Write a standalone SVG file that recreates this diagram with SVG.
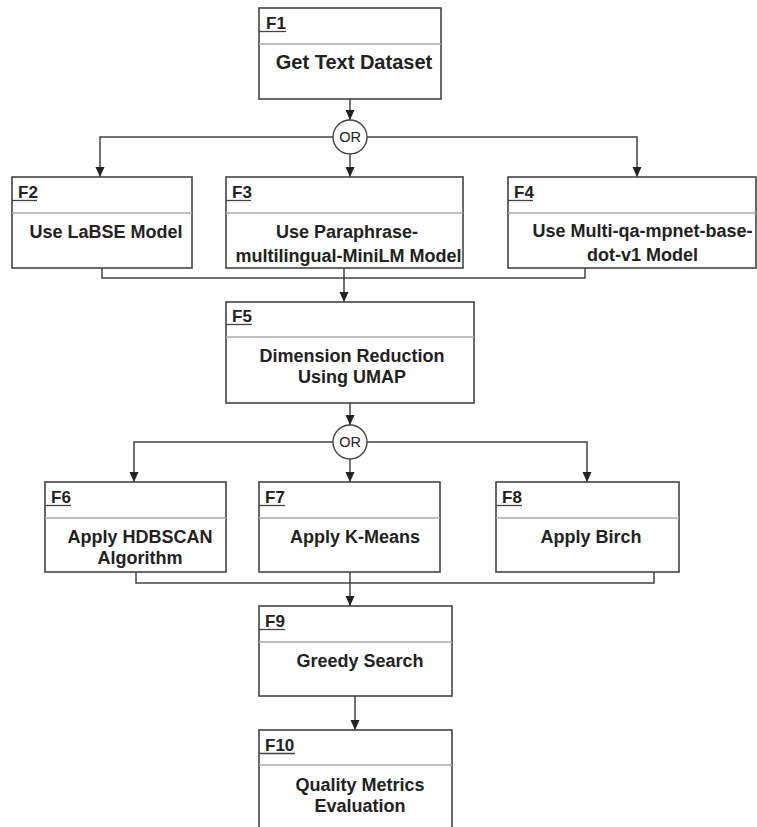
<svg xmlns="http://www.w3.org/2000/svg" width="757" height="827" viewBox="0 0 757 827">
<style>
.box{fill:#fff;stroke:#444;stroke-width:1.6}
.div{stroke:#aaa;stroke-width:1.4}
.lbl{font-family:"Liberation Sans",Arial,sans-serif;font-weight:bold;font-size:17px;fill:#222}
.ul{stroke:#444;stroke-width:1.3}
.t{font-family:"Liberation Sans",Arial,sans-serif;font-weight:bold;font-size:18px;fill:#222;text-anchor:middle}
.or{font-family:"Liberation Sans",Arial,sans-serif;font-size:14.5px;fill:#222;text-anchor:middle}
.c{fill:none;stroke:#444;stroke-width:1.5}
</style>
<defs>
<marker id="ah" markerWidth="11" markerHeight="10" refX="10" refY="4.5" orient="auto" markerUnits="userSpaceOnUse">
<path d="M0,0 L10,4.5 L0,9 z" fill="#222"/>
</marker>
</defs>
<g id="connectors">
<line class="c" x1="350" y1="99" x2="350" y2="120" marker-end="url(#ah)"/>
<circle cx="350" cy="137" r="17" fill="#fff" stroke="#444" stroke-width="1.4"/>
<text class="or" x="350" y="142">OR</text>
<path class="c" d="M333,137 H100 V177" marker-end="url(#ah)"/>
<path class="c" d="M367,137 H637 V177" marker-end="url(#ah)"/>
<line class="c" x1="350" y1="154" x2="350" y2="177" marker-end="url(#ah)"/>
<path class="c" d="M102,268 V278 H585 V268"/>
<line class="c" x1="344" y1="268" x2="344" y2="302" marker-end="url(#ah)"/>
<line class="c" x1="350" y1="403" x2="350" y2="425" marker-end="url(#ah)"/>
<circle cx="350" cy="442" r="17" fill="#fff" stroke="#444" stroke-width="1.4"/>
<text class="or" x="350" y="447">OR</text>
<path class="c" d="M333,442 H134 V482" marker-end="url(#ah)"/>
<path class="c" d="M367,442 H587 V482" marker-end="url(#ah)"/>
<line class="c" x1="350" y1="459" x2="350" y2="482" marker-end="url(#ah)"/>
<path class="c" d="M136,572 V583 H654 V572"/>
<line class="c" x1="350" y1="572" x2="350" y2="606" marker-end="url(#ah)"/>
<line class="c" x1="355" y1="696" x2="355" y2="730" marker-end="url(#ah)"/>
</g>
<g id="F1">
<rect class="box" x="259" y="8" width="182" height="91"/>
<line class="div" x1="259" y1="44" x2="441" y2="44"/>
<text class="lbl" x="266" y="29">F1</text>
<line class="ul" x1="259" y1="31.5" x2="286" y2="31.5"/>
<text class="t" x="354" y="69" style="font-size:20px">Get Text Dataset</text>
</g>
<g id="F2">
<rect class="box" x="12" y="177" width="180" height="91"/>
<line class="div" x1="12" y1="213" x2="192" y2="213"/>
<text class="lbl" x="18" y="198">F2</text>
<line class="ul" x1="12" y1="200.5" x2="37" y2="200.5"/>
<text class="t" x="106" y="238">Use LaBSE Model</text>
</g>
<g id="F3">
<rect class="box" x="226" y="177" width="237" height="91"/>
<line class="div" x1="226" y1="213" x2="463" y2="213"/>
<text class="lbl" x="232" y="198">F3</text>
<line class="ul" x1="226" y1="200.5" x2="251" y2="200.5"/>
<text class="t" x="347" y="238">Use Paraphrase-</text>
<text class="t" x="348.5" y="262">multilingual-MiniLM Model</text>
</g>
<g id="F4">
<rect class="box" x="508" y="177" width="248" height="91"/>
<line class="div" x1="508" y1="213" x2="756" y2="213"/>
<text class="lbl" x="514" y="198">F4</text>
<line class="ul" x1="508" y1="200.5" x2="533" y2="200.5"/>
<text class="t" x="642.5" y="237">Use Multi-qa-mpnet-base-</text>
<text class="t" x="642.5" y="261">dot-v1 Model</text>
</g>
<g id="F5">
<rect class="box" x="226" y="302" width="248" height="101"/>
<line class="div" x1="226" y1="337" x2="474" y2="337"/>
<text class="lbl" x="232" y="322">F5</text>
<line class="ul" x1="226" y1="324.5" x2="252" y2="324.5"/>
<text class="t" x="352" y="362">Dimension Reduction</text>
<text class="t" x="352" y="383">Using UMAP</text>
</g>
<g id="F6">
<rect class="box" x="45" y="482" width="181" height="90"/>
<line class="div" x1="45" y1="518" x2="226" y2="518"/>
<text class="lbl" x="51" y="503">F6</text>
<line class="ul" x1="45" y1="505.5" x2="71" y2="505.5"/>
<text class="t" x="140" y="543">Apply HDBSCAN</text>
<text class="t" x="140" y="564">Algorithm</text>
</g>
<g id="F7">
<rect class="box" x="259" y="482" width="181" height="90"/>
<line class="div" x1="259" y1="518" x2="440" y2="518"/>
<text class="lbl" x="265" y="503">F7</text>
<line class="ul" x1="259" y1="505.5" x2="285" y2="505.5"/>
<text class="t" x="355" y="543">Apply K-Means</text>
</g>
<g id="F8">
<rect class="box" x="496" y="482" width="183" height="90"/>
<line class="div" x1="496" y1="518" x2="679" y2="518"/>
<text class="lbl" x="502" y="503">F8</text>
<line class="ul" x1="496" y1="505.5" x2="522" y2="505.5"/>
<text class="t" x="591" y="543">Apply Birch</text>
</g>
<g id="F9">
<rect class="box" x="259" y="606" width="193" height="90"/>
<line class="div" x1="259" y1="642" x2="452" y2="642"/>
<text class="lbl" x="265" y="627">F9</text>
<line class="ul" x1="259" y1="629.5" x2="285" y2="629.5"/>
<text class="t" x="360" y="667">Greedy Search</text>
</g>
<g id="F10">
<rect class="box" x="259" y="730" width="193" height="110"/>
<line class="div" x1="259" y1="765" x2="452" y2="765"/>
<text class="lbl" x="265" y="751">F10</text>
<line class="ul" x1="259" y1="753.5" x2="295" y2="753.5"/>
<text class="t" x="360" y="791">Quality Metrics</text>
<text class="t" x="360" y="812">Evaluation</text>
</g>
</svg>
